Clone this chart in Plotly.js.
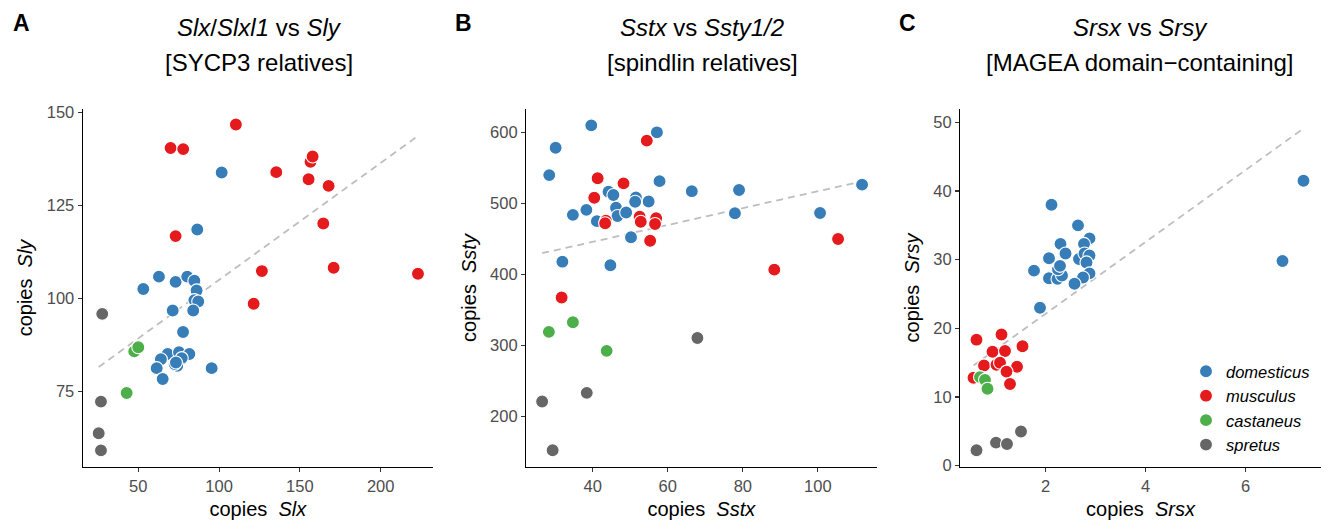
<!DOCTYPE html>
<html>
<head>
<meta charset="utf-8">
<script src="https://cdn.plot.ly/plotly-3.0.1.min.js"></script>
<style>
  html, body { margin: 0; padding: 0; background: #ffffff; }
  #chart { width: 1324px; height: 520px; }
</style>
</head>
<body>
<div id="chart"></div>
<script>
// Copy numbers of X-linked vs Y-linked ampliconic gene families, per subspecies.

const species = ['domesticus', 'musculus', 'castaneus', 'spretus'];
const colors = ['#377EB8', '#E41A1C', '#4DAF4A', '#666666'];

// Panel A: Slx/Slxl1 vs Sly
const slxDom = [101.6, 86.5, 53.1, 62.8, 73.1, 80.3, 84.7, 86.1, 84.7, 87.1, 84.0, 71.3, 77.7, 68.2, 75.2, 81.6, 64.0, 61.4, 76.9, 74.1, 72.5, 73.3, 65.1, 95.4];
const slyDom = [133.9, 118.6, 102.6, 105.9, 104.5, 105.9, 104.8, 102.2, 99.6, 99.2, 96.8, 96.8, 91.0, 85.1, 85.6, 85.1, 83.7, 81.3, 84.0, 81.9, 82.4, 82.8, 78.4, 81.3];
const slxMus = [110.4, 70.0, 77.8, 135.4, 156.6, 157.9, 155.4, 167.8, 164.5, 73.1, 126.5, 170.9, 223.1, 121.4];
const slyMus = [146.8, 140.5, 140.2, 134.0, 136.8, 138.2, 132.1, 130.3, 120.2, 116.8, 107.4, 108.3, 106.7, 98.6];
const slxCas = [47.5, 50.0, 42.8];
const slyCas = [85.8, 86.9, 74.6];
const slxSpr = [27.7, 26.9, 25.5, 26.9];
const slySpr = [95.9, 72.3, 63.8, 59.2];

// Panel B: Sstx vs Ssty1/2
const sstxDom = [39.6, 57.1, 30.1, 28.4, 57.8, 66.4, 79.0, 111.8, 77.9, 100.6, 34.7, 38.3, 41.1, 44.2, 45.5, 46.2, 46.6, 48.9, 51.5, 51.3, 54.9, 50.2, 31.9, 44.7];
const sstyDom = [609.8, 600.0, 578.4, 539.8, 531.3, 517.2, 518.9, 526.4, 486.1, 486.5, 483.9, 490.9, 475.0, 516.4, 511.8, 493.9, 482.2, 487.2, 508.3, 502.4, 502.7, 452.3, 418.0, 412.9];
const sstxMus = [54.4, 41.3, 48.2, 40.4, 43.5, 43.3, 52.5, 52.8, 56.9, 56.6, 55.3, 31.7, 88.4, 105.4];
const sstyMus = [588.3, 535.3, 528.2, 508.0, 475.6, 472.0, 481.2, 474.2, 479.0, 471.0, 447.5, 367.5, 406.8, 450.0];
const sstxCas = [28.3, 34.7, 43.7];
const sstyCas = [319.2, 332.8, 292.5];
const sstxSpr = [67.9, 38.4, 26.5, 29.3];
const sstySpr = [310.7, 233.4, 221.2, 152.7];

// Panel C: Srsx vs Srsy
const srsxDom = [2.12, 2.65, 2.30, 2.88, 2.77, 2.40, 2.07, 1.77, 2.67, 2.78, 2.88, 2.82, 2.88, 2.75, 2.58, 2.07, 2.24, 2.33, 2.25, 2.29, 1.89, 6.74, 7.16];
const srsyDom = [38.0, 35.0, 32.3, 33.1, 32.3, 30.9, 30.2, 28.4, 30.1, 30.9, 30.6, 29.6, 28.0, 27.4, 26.5, 27.3, 27.2, 27.7, 28.6, 29.1, 23.0, 29.8, 41.5];
const srsxMus = [0.62, 1.12, 1.54, 0.94, 1.19, 0.77, 1.02, 1.09, 1.43, 1.22, 1.29, 0.56];
const srsyMus = [18.35, 19.1, 17.4, 16.6, 16.7, 14.6, 14.7, 15.0, 14.4, 13.7, 11.9, 12.8];
const srsxCas = [0.69, 0.79, 0.84];
const srsyCas = [12.9, 12.5, 11.2];
const srsxSpr = [0.62, 1.01, 1.23, 1.51];
const srsySpr = [2.24, 3.36, 3.16, 4.97];

const panels = [
  { xs: [slxDom, slxMus, slxCas, slxSpr],   ys: [slyDom, slyMus, slyCas, slySpr] },
  { xs: [sstxDom, sstxMus, sstxCas, sstxSpr], ys: [sstyDom, sstyMus, sstyCas, sstySpr] },
  { xs: [srsxDom, srsxMus, srsxCas, srsxSpr], ys: [srsyDom, srsyMus, srsyCas, srsySpr] }
];

// Ordinary least-squares fit over all points of a panel
function linearFit(xs, ys) {
  const x = [].concat(...xs), y = [].concat(...ys);
  const n = x.length;
  const mx = x.reduce((a, b) => a + b, 0) / n;
  const my = y.reduce((a, b) => a + b, 0) / n;
  let sxy = 0, sxx = 0;
  for (let i = 0; i < n; i++) { sxy += (x[i] - mx) * (y[i] - my); sxx += (x[i] - mx) ** 2; }
  const slope = sxy / sxx;
  const lo = Math.min(...x), hi = Math.max(...x);
  return { x: [lo, hi], y: [my + slope * (lo - mx), my + slope * (hi - mx)] };
}

const traces = [];
panels.forEach((p, k) => {
  const sfx = k === 0 ? '' : String(k + 1);
  const fit = linearFit(p.xs, p.ys);
  traces.push({
    type: 'scatter', mode: 'lines', x: fit.x, y: fit.y,
    xaxis: 'x' + sfx, yaxis: 'y' + sfx, showlegend: false, hoverinfo: 'skip',
    line: { color: '#BEBEBE', width: 1.8, dash: '7px,5px' }
  });
  species.forEach((sp, i) => {
    traces.push({
      type: 'scatter', mode: 'markers', x: p.xs[i], y: p.ys[i],
      xaxis: 'x' + sfx, yaxis: 'y' + sfx,
      name: '<i>' + sp + '</i>', legendgroup: sp, showlegend: k === 2,
      marker: { color: colors[i], size: 13, line: { color: '#ffffff', width: 1.1 } }
    });
  });
});

const W = 1324, H = 520;
const px = v => v / W;
const py = v => 1 - v / H;
const font = 'Liberation Sans, Arial, Helvetica, sans-serif';

function axis(domain, range, tickvals, titleHtml, anchor) {
  return {
    domain: domain, range: range, anchor: anchor,
    tickvals: tickvals, ticks: 'outside', ticklen: 4, tickwidth: 1.1, tickcolor: '#333333',
    showline: true, linecolor: '#000000', linewidth: 1.1,
    showgrid: false, zeroline: false, fixedrange: true,
    tickfont: { family: font, size: 16.5, color: '#4D4D4D' },
    title: { text: titleHtml, font: { family: font, size: 20, color: '#000000' }, standoff: 8 }
  };
}

const yDom = [py(466.7), py(109.3)];
const gap = '\u00a0\u00a0';

const layout = {
  width: W, height: H,
  margin: { l: 0, r: 0, t: 0, b: 0 },
  paper_bgcolor: '#ffffff', plot_bgcolor: '#ffffff',
  font: { family: font },
  showlegend: true,
  legend: {
    x: px(1186), y: py(354), xanchor: 'left', yanchor: 'top',
    bgcolor: 'rgba(0,0,0,0)', tracegroupgap: 0,
    font: { family: font, size: 16.5, color: '#000000' }
  },
  xaxis:  axis([px(82.7), px(433)],  [15.6, 232.4], [50, 100, 150, 200], 'copies' + gap + '<i>Slx</i>', 'y'),
  yaxis:  axis(yDom, [54.8, 150.9], [75, 100, 125, 150], 'copies' + gap + '<i>Sly</i>', 'x'),
  xaxis2: axis([px(526), px(876.7)], [22.2, 115.7], [40, 60, 80, 100], 'copies' + gap + '<i>Sstx</i>', 'y2'),
  yaxis2: axis(yDom, [129.5, 632.4], [200, 300, 400, 500, 600], 'copies' + gap + '<i>Ssty</i>', 'x2'),
  xaxis3: axis([px(960), px(1321)], [0.29, 7.51], [2, 4, 6], 'copies' + gap + '<i>Srsx</i>', 'y3'),
  yaxis3: axis(yDom, [-0.15, 51.9], [0, 10, 20, 30, 40, 50], 'copies' + gap + '<i>Srsy</i>', 'x3'),
  annotations: []
};

const titles = [
  { letter: 'A', lx: 21,  cx: 259,  l1: '<i>Slx</i>/<i>Slxl1</i> vs <i>Sly</i>', l2: '[SYCP3 relatives]' },
  { letter: 'B', lx: 463, cx: 702,  l1: '<i>Sstx</i> vs <i>Ssty1/2</i>',          l2: '[spindlin relatives]' },
  { letter: 'C', lx: 907, cx: 1140, l1: '<i>Srsx</i> vs <i>Srsy</i>',             l2: '[MAGEA domain\u2212containing]' }
];
titles.forEach(t => {
  layout.annotations.push(
    { xref: 'paper', yref: 'paper', x: px(t.lx), y: py(23), xanchor: 'center', yanchor: 'middle',
      showarrow: false, text: '<b>' + t.letter + '</b>', font: { family: font, size: 23, color: '#000000' } },
    { xref: 'paper', yref: 'paper', x: px(t.cx), y: py(27), xanchor: 'center', yanchor: 'middle',
      showarrow: false, text: t.l1, font: { family: font, size: 24, color: '#000000' } },
    { xref: 'paper', yref: 'paper', x: px(t.cx), y: py(62), xanchor: 'center', yanchor: 'middle',
      showarrow: false, text: t.l2, font: { family: font, size: 24, color: '#000000' } }
  );
});

Plotly.newPlot('chart', traces, layout, { displayModeBar: false, staticPlot: true });
</script>
</body>
</html>
